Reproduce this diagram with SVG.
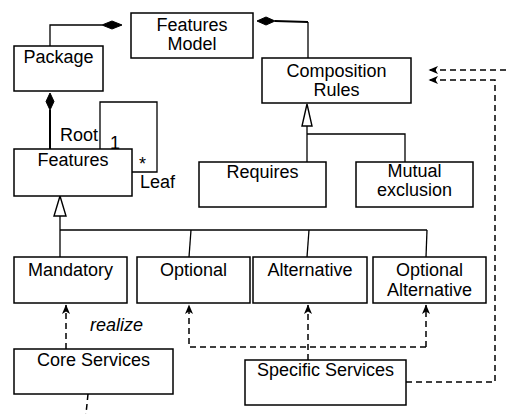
<svg xmlns="http://www.w3.org/2000/svg" width="506" height="414" viewBox="0 0 506 414">
<defs>
<style>
.box{fill:#fff;stroke:#000;stroke-width:1.5}
.t{font-family:"Liberation Sans",Arial,sans-serif;font-size:18px;fill:#000;text-anchor:middle}
.l{font-family:"Liberation Sans",Arial,sans-serif;font-size:18px;fill:#000}
.ln{fill:none;stroke:#000;stroke-width:1.3}
.thick{fill:none;stroke:#000;stroke-width:2}
.dash{fill:none;stroke:#000;stroke-width:1.5;stroke-dasharray:6 4}
.dia{fill:#000;stroke:#000;stroke-width:1}
.tri{fill:#fff;stroke:#000;stroke-width:1.4}
</style>
<marker id="arr" markerUnits="userSpaceOnUse" markerWidth="12" markerHeight="12" viewBox="0 0 12 12" refX="10" refY="6" orient="auto">
<path d="M10.5,6 L1,2 L3.5,6 L1,10 Z" fill="#000"/>
</marker>
</defs>
<rect width="506" height="414" fill="#fff"/>
<g id="connectors">
<polyline class="ln" points="50,46 50,25 102,25"/>
<polygon class="dia" points="102,25 112,21 122,25 112,29"/>
<polyline class="thick" points="275,21 308,22"/>
<polyline class="ln" points="308,22 308,58"/>
<polygon class="dia" points="257,21 266,17 275,21 266,25"/>
<polygon class="dia" points="50,93 54,101.5 50,110 46,101.5"/>
<line class="thick" x1="50" y1="110" x2="50" y2="149"/>
<polyline class="ln" points="100,149 100,102 157,102 157,172 132,172"/>
<polygon class="tri" points="60,196 54,216 66,216"/>
<line class="ln" x1="60" y1="216" x2="60" y2="257"/>
<line class="ln" x1="60" y1="230" x2="427" y2="230"/>
<line class="ln" x1="191" y1="230" x2="189" y2="257"/>
<line class="ln" x1="309" y1="230" x2="307" y2="257"/>
<line class="ln" x1="427" y1="230" x2="426" y2="257"/>
<polygon class="tri" points="307,104 302,126 312,126"/>
<line class="ln" x1="307" y1="126" x2="307" y2="162"/>
<polyline class="ln" points="307,134 405,134 405,162"/>
<line class="dash" x1="66" y1="349" x2="66" y2="305" marker-end="url(#arr)"/>
<polyline class="dash" points="426,347 189,347 189,305" marker-end="url(#arr)"/>
<line class="dash" x1="426" y1="347" x2="426" y2="305" marker-end="url(#arr)"/>
<line class="dash" x1="308" y1="360" x2="308" y2="305" marker-end="url(#arr)"/>
<line class="dash" x1="88" y1="394" x2="86" y2="414"/>
<polyline class="dash" points="406,382 495,382 495,80 429,80" marker-end="url(#arr)"/>
<line class="dash" x1="506" y1="70" x2="429" y2="70" marker-end="url(#arr)"/>
</g>
<g id="features-model"><rect class="box" x="131" y="13" width="122" height="45"/><text class="t" x="192" y="31">Features</text><text class="t" x="192" y="50">Model</text></g>
<g id="package"><rect class="box" x="14" y="46" width="89" height="45"/><text class="t" x="58.5" y="63">Package</text></g>
<g id="composition-rules"><rect class="box" x="262" y="58" width="149" height="45"/><text class="t" x="336.5" y="77">Composition</text><text class="t" x="336.5" y="96">Rules</text></g>
<g id="features"><rect class="box" x="14" y="149" width="118" height="47"/><text class="t" x="73" y="166">Features</text></g>
<g id="labels"><text class="l" x="60" y="141">Root</text><text class="l" x="110" y="149">1</text><text class="l" x="139" y="170">*</text><text class="l" x="140" y="188">Leaf</text><text class="l" x="90" y="331" font-style="italic">realize</text></g>
<g id="requires"><rect class="box" x="199" y="162" width="127" height="45"/><text class="t" x="262.5" y="178">Requires</text></g>
<g id="mutual-exclusion"><rect class="box" x="356" y="162" width="117" height="45"/><text class="t" x="414.5" y="177">Mutual</text><text class="t" x="414.5" y="196">exclusion</text></g>
<g id="mandatory"><rect class="box" x="14" y="257" width="113" height="46"/><text class="t" x="70.5" y="276">Mandatory</text></g>
<g id="optional"><rect class="box" x="137" y="257" width="113" height="46"/><text class="t" x="193.5" y="276">Optional</text></g>
<g id="alternative"><rect class="box" x="253" y="257" width="114" height="46"/><text class="t" x="310" y="276">Alternative</text></g>
<g id="optional-alternative"><rect class="box" x="373" y="257" width="113" height="46"/><text class="t" x="429.5" y="276">Optional</text><text class="t" x="429.5" y="296">Alternative</text></g>
<g id="core-services"><rect class="box" x="14" y="349" width="159" height="45"/><text class="t" x="93.5" y="366">Core Services</text></g>
<g id="specific-services"><rect class="box" x="245" y="360" width="161" height="45"/><text class="t" x="325.5" y="376">Specific Services</text></g>
</svg>
